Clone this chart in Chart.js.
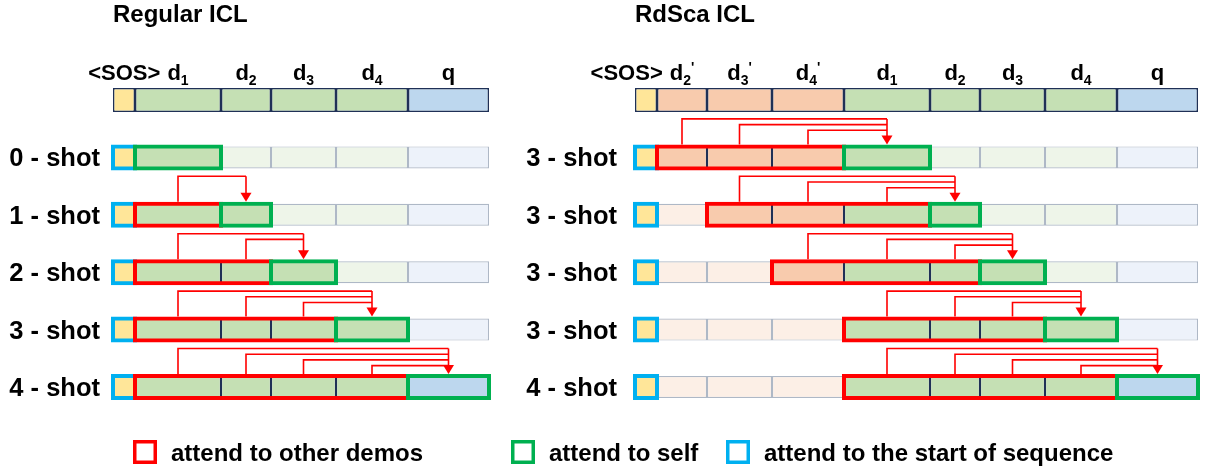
<!DOCTYPE html>
<html>
<head>
<meta charset="utf-8">
<script src="https://cdn.jsdelivr.net/npm/chart.js@4.4.1/dist/chart.umd.min.js"></script>
<style>
  html, body { margin: 0; padding: 0; background: #fff; }
  #wrap { position: relative; width: 1207px; height: 468px; }
</style>
</head>
<body>
<div id="wrap"><canvas id="diagram" width="1207" height="468"></canvas></div>
<script>
// token lengths, in x-axis units
const tokenNames   = ['<SOS>', 'd1', 'd2', 'd3', 'd4', 'q', "d2'", "d3'", "d4'"];
const tokenLengths = [22, 86, 50, 65, 72, 81, 50, 65, 72];

// Regular ICL
const regularSeq    = ['<SOS>', 'd1', 'd2', 'd3', 'd4', 'q'];
const regularLabels = ['0 - shot', '1 - shot', '2 - shot', '3 - shot', '4 - shot'];
const regularOthers = [[], ['d1'], ['d1', 'd2'], ['d1', 'd2', 'd3'], ['d1', 'd2', 'd3', 'd4']];
const regularSelf   = ['d1', 'd2', 'd3', 'd4', 'q'];

// RdSca ICL
const rdscaSeq    = ['<SOS>', "d2'", "d3'", "d4'", 'd1', 'd2', 'd3', 'd4', 'q'];
const rdscaLabels = ['3 - shot', '3 - shot', '3 - shot', '3 - shot', '4 - shot'];
const rdscaOthers = [["d2'", "d3'", "d4'"], ["d3'", "d4'", 'd1'], ["d4'", 'd1', 'd2'], ['d1', 'd2', 'd3'], ['d1', 'd2', 'd3', 'd4']];
const rdscaSelf   = ['d1', 'd2', 'd3', 'd4', 'q'];

const legendLabels = ['attend to other demos', 'attend to self', 'attend to the start of sequence'];

// ---- layout / style ----
const FONT = '"Liberation Sans", Arial, sans-serif';
const RED = '#FF0000', GREEN = '#00B050', BLUE = '#00B0F0';
const NAVY = '#1F3056', GREY = '#AEB8C6';
const fillFull  = { sos: '#FFE699', demo: '#C5E0B4', prime: '#F8CBAD', q: '#BDD7EE' };
const fillFaded = { sos: '#FFE699', demo: '#EEF5E9', prime: '#FCEFE6', q: '#EDF2FA' };

const panels = [
  { title: 'Regular ICL', seq: regularSeq, labels: regularLabels, others: regularOthers, self: regularSelf, start: 113, labelRight: 100 },
  { title: 'RdSca ICL',   seq: rdscaSeq,   labels: rdscaLabels,   others: rdscaOthers,   self: rdscaSelf,   start: 635, labelRight: 617 }
];

function kindOf(t) {
  if (t === '<SOS>') return 'sos';
  if (t === 'q') return 'q';
  if (t.indexOf("'") >= 0) return 'prime';
  return 'demo';
}
function lenOf(t) { return tokenLengths[tokenNames.indexOf(t)]; }

// token spans for each panel
panels.forEach(p => {
  let x = p.start;
  p.span = {};
  p.seq.forEach(t => { p.span[t] = [x, x + lenOf(t)]; x += lenOf(t); });
});
function mid(p, t) { return (p.span[t][0] + p.span[t][1]) / 2; }

// ---- datasets ----
const header = { data: [], bg: [] };
const cells = { data: [], bg: [], border: [] };
const blueBox = [], redBox = [], greenBox = [];
const half = 2;

panels.forEach(p => {
  p.seq.forEach(t => {
    header.data.push({ x: p.span[t], y: 0 });
    header.bg.push(fillFull[kindOf(t)]);
  });
  p.labels.forEach((lab, r) => {
    const row = r + 1;
    const others = p.others[r], self = p.self[r];
    p.seq.forEach(t => {
      const active = t === '<SOS>' || t === self || others.indexOf(t) >= 0;
      cells.data.push({ x: p.span[t], y: row });
      cells.bg.push(active ? fillFull[kindOf(t)] : fillFaded[kindOf(t)]);
      cells.border.push(active ? NAVY : GREY);
    });
    blueBox.push({ x: [p.span['<SOS>'][0] - half, p.span['<SOS>'][1] + half], y: row });
    if (others.length) {
      redBox.push({ x: [p.span[others[0]][0] - half, p.span[others[others.length - 1]][1] + half], y: row });
    }
    greenBox.push({ x: [p.span[self][0] - half, p.span[self][1] + half], y: row });
  });
});

const common = { grouped: false, borderSkipped: false, inflateAmount: 0 };
const boxStyle = Object.assign({}, common, { backgroundColor: 'rgba(0,0,0,0)', borderWidth: 4, barThickness: 26 });

// ---- text + arrows plugin ----
function drawToken(ctx, name, cx, base) {
  const main = 'bold 22px ' + FONT, small = 'bold 14px ' + FONT;
  const digit = name.charAt(1), prime = name.indexOf("'") >= 0;
  ctx.font = main; const wd = ctx.measureText('d').width;
  ctx.font = small; const ws = ctx.measureText(digit).width;
  const wp = prime ? ctx.measureText("'").width : 0;
  const left = cx - (wd + ws + wp) / 2;
  ctx.font = main; ctx.fillText('d', left, base);
  ctx.font = small; ctx.fillText(digit, left + wd, base + 5);
  if (prime) ctx.fillText("'", left + wd + ws, base - 8);
  return left;
}

const diagramText = {
  id: 'diagramText',
  afterDatasetsDraw(chart) {
    const ctx = chart.ctx, xs = chart.scales.x, ys = chart.scales.y;
    ctx.save();
    ctx.fillStyle = '#000';
    ctx.textBaseline = 'alphabetic';

    panels.forEach(p => {
      // title
      ctx.font = 'bold 24px ' + FONT;
      ctx.textAlign = 'left';
      ctx.fillText(p.title, xs.getPixelForValue(p.start), 22);

      // token labels above the top bar
      const base = ys.getPixelForValue(0) - 20;
      let firstLeft = null;
      p.seq.forEach((t, i) => {
        const cx = xs.getPixelForValue(mid(p, t));
        if (t === 'q') {
          ctx.font = 'bold 22px ' + FONT; ctx.textAlign = 'center';
          ctx.fillText('q', cx, base);
          ctx.textAlign = 'left';
        } else if (t !== '<SOS>') {
          ctx.textAlign = 'left';
          const l = drawToken(ctx, t, cx, base);
          if (i === 1) firstLeft = l;
        }
      });
      ctx.font = 'bold 22px ' + FONT; ctx.textAlign = 'right';
      ctx.fillText('<SOS>', firstLeft - 7, base);

      // row labels
      ctx.font = 'bold 25.5px ' + FONT; ctx.textAlign = 'right';
      p.labels.forEach((lab, r) => {
        ctx.fillText(lab, p.labelRight, ys.getPixelForValue(r + 1) + 9);
      });

      // arrows
      ctx.strokeStyle = RED; ctx.fillStyle = RED; ctx.lineWidth = 1.6;
      p.labels.forEach((lab, r) => {
        const others = p.others[r];
        if (!others.length) return;
        const top = ys.getPixelForValue(r + 1) - 13;
        const tx = xs.getPixelForValue(mid(p, p.self[r]));
        others.forEach((t, j) => {
          const sx = xs.getPixelForValue(mid(p, t));
          const ly = top - 25.5 + j * 5.7;
          ctx.beginPath(); ctx.moveTo(sx, top); ctx.lineTo(sx, ly); ctx.lineTo(tx, ly); ctx.stroke();
        });
        ctx.beginPath(); ctx.moveTo(tx, top - 25.5); ctx.lineTo(tx, top - 8); ctx.stroke();
        ctx.beginPath(); ctx.moveTo(tx - 5.5, top - 9); ctx.lineTo(tx + 5.5, top - 9); ctx.lineTo(tx, top); ctx.closePath(); ctx.fill();
      });
      ctx.fillStyle = '#000';
    });

    // legend
    const legendColors = [RED, GREEN, BLUE];
    const legendX = [133, 511, 726];
    ctx.font = 'bold 24px ' + FONT; ctx.textAlign = 'left';
    legendLabels.forEach((lab, i) => {
      ctx.strokeStyle = legendColors[i]; ctx.lineWidth = 3.5;
      ctx.strokeRect(legendX[i] + 1.75, 441.75, 20.5, 20.5);
      ctx.fillStyle = '#000';
      ctx.fillText(lab, legendX[i] + 38, 461);
    });
    ctx.restore();
  }
};

new Chart(document.getElementById('diagram'), {
  type: 'bar',
  data: {
    datasets: [
      Object.assign({ data: header.data, backgroundColor: header.bg, borderColor: NAVY, borderWidth: 1.5, barThickness: 24, order: 5 }, common),
      Object.assign({ data: cells.data, backgroundColor: cells.bg, borderColor: cells.border, borderWidth: 1.2, barThickness: 22, order: 4 }, common),
      Object.assign({ data: blueBox, borderColor: BLUE, order: 3 }, boxStyle),
      Object.assign({ data: redBox, borderColor: RED, order: 2 }, boxStyle),
      Object.assign({ data: greenBox, borderColor: GREEN, order: 1 }, boxStyle)
    ]
  },
  options: {
    indexAxis: 'y',
    responsive: false,
    animation: false,
    devicePixelRatio: 1,
    events: [],
    layout: { padding: 0 },
    plugins: { legend: { display: false }, tooltip: { enabled: false } },
    scales: {
      x: { type: 'linear', min: 0, max: 1207, offset: false, display: false },
      y: { type: 'linear', reverse: true, offset: false, min: -100 / 57.4, max: (468 - 100) / 57.4, display: false }
    }
  },
  plugins: [diagramText]
});
</script>
</body>
</html>
